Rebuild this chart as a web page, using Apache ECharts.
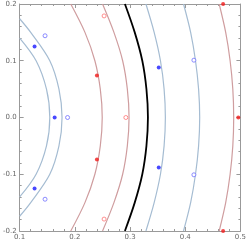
<!DOCTYPE html>
<html><head><meta charset="utf-8">
<script src="https://cdn.jsdelivr.net/npm/echarts@6/dist/echarts.min.js"></script>
<style>html,body{margin:0;padding:0;background:#fff}#c{width:249px;height:244px}</style>
</head><body><div id="c"></div>
<script>
// Tick labels
var xTicks = [0.1, 0.2, 0.3, 0.4, 0.5];
var yTicks = [-0.2, -0.1, 0.0, 0.1, 0.2];

// Contour curves: y levels (upper half, mirrored) and x positions
var yLevels = [0.2, 0.15, 0.1, 0.05, 0];
var blue1Y = [0.14, 0.1, 0.05, 0];
var blue1X = [0.1, 0.1298, 0.1486, 0.1546];
var blue2Y = [0.174, 0.15, 0.1, 0.05, 0];
var blue2X = [0.1, 0.12, 0.1546, 0.1712, 0.1768];
var red1X  = [0.1926, 0.2183, 0.2363, 0.2461, 0.2496];
var red2X  = [0.2502, 0.2708, 0.2866, 0.2951, 0.2982];
var blackX = [0.2907, 0.3085, 0.3222, 0.3297, 0.3324];
var blue3X = [0.3288, 0.3437, 0.3551, 0.3617, 0.364];
var blue4X = [0.3969, 0.4098, 0.4186, 0.4242, 0.4262];
var red3X  = [0.4615, 0.4733, 0.4813, 0.4862, 0.4878];

// Points
var blueFilled = [[0.127,0.125],[0.127,-0.125],[0.1634,0],[0.352,0.088],[0.352,-0.088]];
var blueHollow = [[0.146,0.144],[0.146,-0.144],[0.1868,0],[0.4157,0.101],[0.4157,-0.101]];
var redFilled  = [[0.240,0.074],[0.240,-0.074],[0.4961,0],[0.4686,0.2],[0.4686,-0.2]];
var redHollow  = [[0.253,0.179],[0.253,-0.179],[0.2924,0],[0.099,0.058],[0.099,-0.058]];

function curve(xs, ys){
  var pts = [];
  for (var i=0;i<ys.length;i++) pts.push([xs[i], ys[i]]);
  for (var j=ys.length-2;j>=0;j--) pts.push([xs[j], -ys[j]]);
  return pts;
}
var BLUE = '#a5bcd2', RED = '#cf9d9f';
function lineS(data, color, w){
  return {type:'line', data:data, smooth:0.33, showSymbol:false, symbol:'none', clip:true,
    lineStyle:{color:color, width:w}, silent:true, animation:false, z:2};
}
var axisCommon = {
  axisLine:{show:true, onZero:false, lineStyle:{color:'#9a9a9a', width:1}},
  axisTick:{show:true, inside:true, length:4, lineStyle:{color:'#9a9a9a'}},
  minorTick:{show:true, splitNumber:5, length:2, lineStyle:{color:'#9a9a9a'}},
  splitLine:{show:false}, minorSplitLine:{show:false}
};
function fmt(v){ return (Math.round(v*10)/10).toFixed(1); }
var chart = echarts.init(document.getElementById('c'), null, {renderer:'canvas'});
chart.setOption({
  animation:false,
  grid:{left:16, right:6, top:4, bottom:13},
  xAxis:[
    Object.assign({type:'value', position:'bottom', min:xTicks[0], max:xTicks[xTicks.length-1], interval:0.1,
      axisLabel:{show:true, formatter:fmt, fontSize:7, color:'#666', margin:3, fontFamily:'DejaVu Sans'}}, axisCommon),
    Object.assign({type:'value', position:'top', min:xTicks[0], max:xTicks[xTicks.length-1], interval:0.1,
      axisLabel:{show:false}}, axisCommon)
  ],
  yAxis:[
    Object.assign({type:'value', position:'left', min:yTicks[0], max:yTicks[yTicks.length-1], interval:0.1,
      axisLabel:{show:true, formatter:fmt, fontSize:7, color:'#666', margin:3, fontFamily:'DejaVu Sans'}}, axisCommon),
    Object.assign({type:'value', position:'right', min:yTicks[0], max:yTicks[yTicks.length-1], interval:0.1,
      axisLabel:{show:false}}, axisCommon)
  ],
  series:[
    lineS(curve(blue1X, blue1Y), BLUE, 1.2),
    lineS(curve(blue2X, blue2Y), BLUE, 1.2),
    lineS(curve(red1X, yLevels), RED, 1.2),
    lineS(curve(red2X, yLevels), RED, 1.2),
    lineS(curve(blackX, yLevels), '#000', 1.8),
    lineS(curve(blue3X, yLevels), BLUE, 1.2),
    lineS(curve(blue4X, yLevels), BLUE, 1.2),
    lineS(curve(red3X, yLevels), RED, 1.2),
    {type:'scatter', data:blueFilled, symbolSize:4, itemStyle:{color:'#1a1aff'}, clip:true, z:5},
    {type:'scatter', data:blueHollow, symbolSize:4, itemStyle:{color:'#fff', borderColor:'#6f6fff', borderWidth:1}, clip:true, z:5},
    {type:'scatter', data:redFilled, symbolSize:4, itemStyle:{color:'#f01818'}, clip:true, z:5},
    {type:'scatter', data:redHollow, symbolSize:4, itemStyle:{color:'#fff', borderColor:'#ff7373', borderWidth:1}, clip:true, z:5}
  ]
});
</script></body></html>
